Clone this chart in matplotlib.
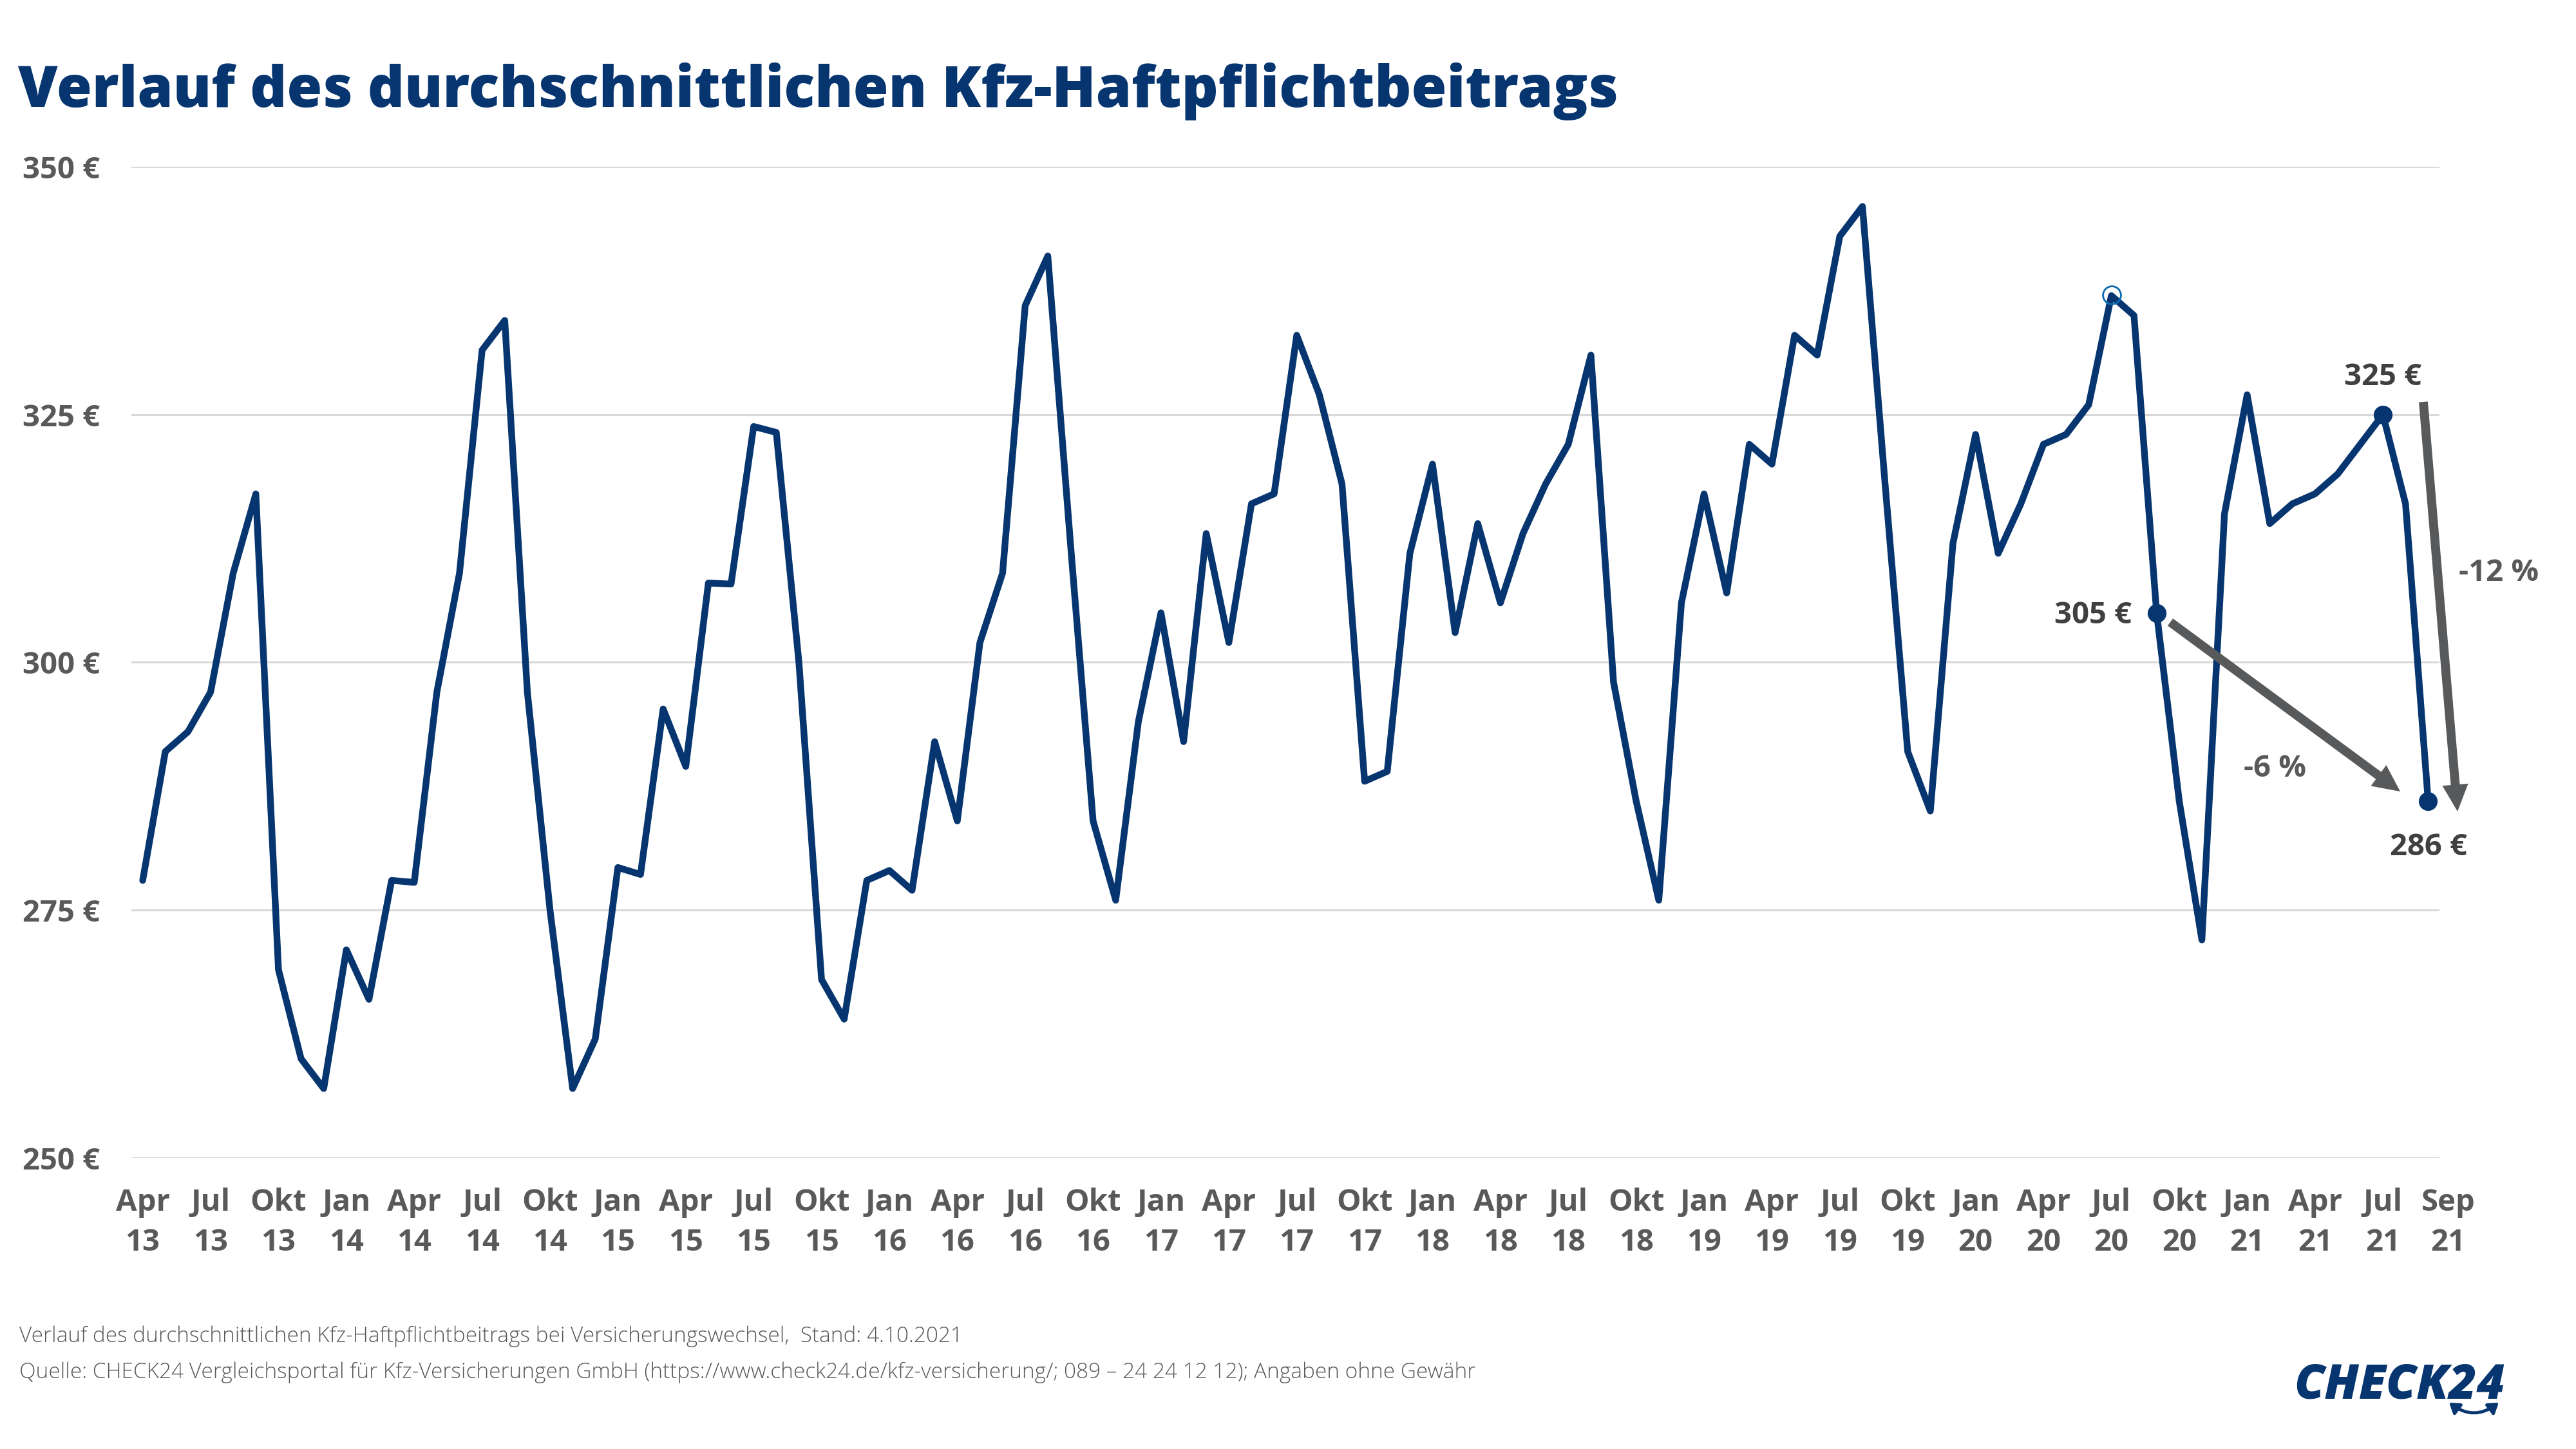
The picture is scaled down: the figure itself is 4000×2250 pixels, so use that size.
import matplotlib
matplotlib.use('Agg')
import matplotlib.pyplot as plt
from matplotlib.patches import FancyArrowPatch
from matplotlib.transforms import ScaledTranslation
import numpy as np

plt.rcParams['font.family'] = ['Open Sans', 'DejaVu Sans']

# --- Data ---
# monthly average premium in EUR, Apr 2013 to Sep 2021
beitrag_2013 = [278, 291, 293, 297, 309, 317, 269, 260, 257]
beitrag_2014 = [271, 266, 278, 277.8, 297, 309, 331.5, 334.5, 297, 275, 257, 262]
beitrag_2015 = [279.3, 278.6, 295.3, 289.5, 308, 307.9, 323.8, 323.2, 300, 268, 264, 278]
beitrag_2016 = [279, 277, 292, 284, 302, 309, 336, 341, 312, 284, 276, 294]
beitrag_2017 = [305, 292, 313, 302, 316, 317, 333, 327, 318, 288, 289, 311]
beitrag_2018 = [320, 303, 314, 306, 313, 318, 322, 331, 298, 286, 276, 306]
beitrag_2019 = [317, 307, 322, 320, 333, 331, 343, 346, 318, 291, 285, 312]
beitrag_2020 = [323, 311, 316, 322, 323, 326, 337, 335, 305, 286, 272, 315]
beitrag_2021 = [327, 314, 316, 317, 319, 322, 325, 316, 286]
beitrag = np.array(beitrag_2013 + beitrag_2014 + beitrag_2015 + beitrag_2016 + beitrag_2017
                   + beitrag_2018 + beitrag_2019 + beitrag_2020 + beitrag_2021)

quarters = ['Jan', 'Apr', 'Jul', 'Okt']
tick_months = quarters[1:] + quarters * 8
tick_years = [13] * 3 + [y for y in range(14, 22) for _ in range(4)]
tick_months = tick_months[:34] + ['Sep']
tick_years = tick_years[:34] + [21]
y_ticks = [250, 275, 300, 325, 350]

# highlighted months: index into beitrag
marked = [89, 99, 101]
ring = 87

NAVY = '#06356f'
GREY = '#58595b'
DARK = '#404041'
W, H = 4000, 2250


def fx(x):
    return x / W


def fy(y):
    return 1 - y / H


# --- Plot ---
fig = plt.figure(figsize=(40, 22.5), dpi=100, facecolor='white')
ax = fig.add_axes([fx(204), fy(1798), (3788 - 204) / W, (1798 - 259) / H])

ax.plot(np.arange(len(beitrag)), beitrag, color=NAVY, linewidth=7.5, solid_joinstyle='round',
        solid_capstyle='round', clip_on=False, zorder=3)
ax.plot(marked, beitrag[marked], 'o', color=NAVY, markersize=20, clip_on=False, zorder=4)
ax.plot(ring, beitrag[ring] + 0.1, 'o', markerfacecolor='none', markeredgecolor='#0a6cb0',
        markersize=20, markeredgewidth=2, clip_on=False, zorder=4)

ax.set_xlim(-0.5, 101.5)
ax.set_ylim(250, 350)
for s in ax.spines.values():
    s.set_visible(False)

ax.set_yticks(y_ticks, [f'{v} €' for v in y_ticks])
ax.grid(axis='y', color='#d9d9d9', linewidth=2.2)
ax.set_axisbelow(True)
ax.tick_params(axis='y', length=0, pad=35, labelsize=34, labelcolor=GREY)
for lab in ax.get_yticklabels():
    lab.set_fontweight('bold')

tick_pos = list(range(0, 100, 3)) + [101]
ax.set_xticks(tick_pos, [f'{m}\n{y}' for m, y in zip(tick_months, tick_years)])
ax.tick_params(axis='x', length=0, pad=33, labelsize=34, labelcolor=GREY)
for lab in ax.get_xticklabels():
    lab.set_fontweight('bold')
    lab.set_linespacing(1.42)
last = ax.get_xticklabels()[-1]
last.set_transform(last.get_transform() + ScaledTranslation(0.31, 0, fig.dpi_scale_trans))

# title and notes
fig.text(fx(28), fy(166), 'Verlauf des durchschnittlichen Kfz-Haftpflichtbeitrags', color=NAVY,
         fontsize=64, fontweight='heavy', va='baseline')
fig.text(fx(30), fy(2084), 'Verlauf des durchschnittlichen Kfz-Haftpflichtbeitrags bei Versicherungswechsel,  Stand: 4.10.2021',
         color=GREY, fontsize=24, fontweight='light', va='baseline')
fig.text(fx(30), fy(2140), 'Quelle: CHECK24 Vergleichsportal für Kfz-Versicherungen GmbH (https://www.check24.de/kfz-versicherung/; 089 – 24 24 12 12); Angaben ohne Gewähr',
         color=GREY, fontsize=24, fontweight='light', va='baseline')

# value labels
for txt, x, y, c, ha in [('325 €', 3700, 586, DARK, 'center'), ('305 €', 3310, 956, DARK, 'right'),
                         ('286 €', 3771, 1316, DARK, 'center'), ('-6 %', 3532, 1194, GREY, 'center'),
                         ('-12 %', 3880, 890, GREY, 'center')]:
    fig.text(fx(x), fy(y), txt, color=c, fontsize=34, fontweight='bold', ha=ha, va='center')

# arrows
for (x0, y0), (x1, y1) in [((3370, 966), (3727, 1229)), ((3763, 624), (3816, 1260))]:
    fig.add_artist(FancyArrowPatch((fx(x0), fy(y0)), (fx(x1), fy(y1)), transform=fig.transFigure,
                                   arrowstyle='simple,head_length=30,head_width=29,tail_width=10',
                                   mutation_scale=1, shrinkA=0, shrinkB=0, color=GREY, linewidth=0, zorder=5))

# logo
fig.text(fx(3562), fy(2171), 'CHECK24', color=NAVY, fontsize=54, fontweight='heavy', style='italic', va='baseline')
fig.add_artist(FancyArrowPatch((fx(3803), fy(2178)), (fx(3880), fy(2178)), transform=fig.transFigure,
                               connectionstyle='arc3,rad=0.38',
                               arrowstyle='<|-|>,head_length=9,head_width=6', mutation_scale=1,
                               shrinkA=0, shrinkB=0, color=NAVY, linewidth=3.5))

fig.savefig('out.png', dpi=100, facecolor='white')
